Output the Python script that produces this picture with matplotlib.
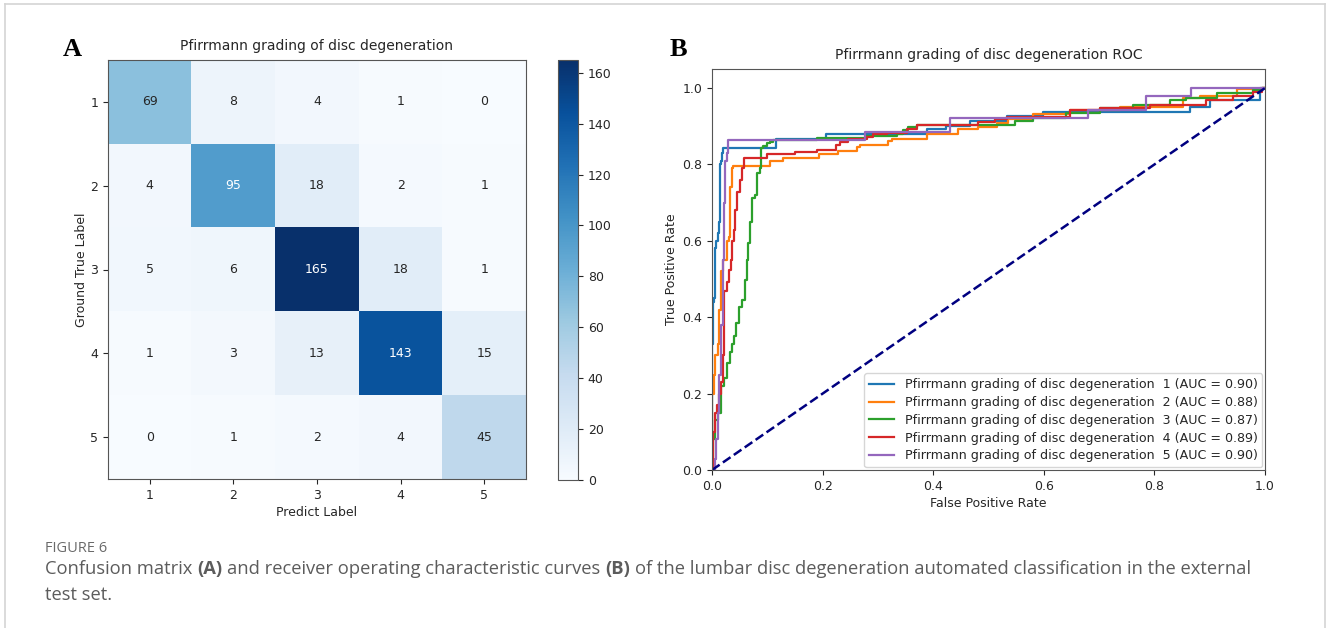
"""
plot.py
Confusion matrix (A) and per-grade ROC curves (B) for Pfirrmann grading,
with the figure caption underneath.
"""
import numpy as np
import matplotlib
matplotlib.use('Agg')
import matplotlib.pyplot as plt
from matplotlib.lines import Line2D

# ── Data ──────────────────────────────────────────────────
grades = ['1', '2', '3', '4', '5']
cm = np.array([
    [69,  8,   4,   1,  0],
    [ 4, 95,  18,   2,  1],
    [ 5,  6, 165,  18,  1],
    [ 1,  3,  13, 143, 15],
    [ 0,  1,   2,   4, 45],
])
cbar_ticks = [0, 20, 40, 60, 80, 100, 120, 140, 160]

auc_vals = [0.90, 0.88, 0.87, 0.89, 0.90]

# ROC steps: at each fpr the tpr jumps to the given value
fpr_1 = [0, 0, 0.002, 0.004, 0.006, 0.008, 0.010, 0.012, 0.014, 0.016, 0.018, 0.020,
         0.116, 0.207, 0.388, 0.424, 0.467, 0.533, 0.599, 0.864, 0.900, 0.991, 1.0]
tpr_1 = [0, 0.33, 0.44, 0.45, 0.58, 0.60, 0.62, 0.65, 0.80, 0.81, 0.83, 0.843,
         0.866, 0.879, 0.894, 0.900, 0.914, 0.927, 0.938, 0.951, 0.970, 1.0, 1.0]

fpr_2 = [0, 0, 0.003, 0.006, 0.010, 0.013, 0.017, 0.020, 0.027, 0.030, 0.033, 0.036,
         0.038, 0.105, 0.128, 0.194, 0.228, 0.262, 0.268, 0.319, 0.325, 0.388, 0.445,
         0.481, 0.515, 0.536, 0.581, 0.647, 0.738, 0.852, 0.882, 0.949, 0.995, 1.0]
tpr_2 = [0, 0.20, 0.25, 0.30, 0.33, 0.42, 0.52, 0.55, 0.60, 0.61, 0.74, 0.79,
         0.797, 0.809, 0.818, 0.827, 0.836, 0.846, 0.851, 0.862, 0.868, 0.880, 0.892,
         0.899, 0.909, 0.918, 0.931, 0.942, 0.951, 0.973, 0.980, 0.997, 1.0, 1.0]

fpr_3 = [0, 0.002, 0.005, 0.011, 0.016, 0.022, 0.027, 0.032, 0.037, 0.040, 0.044,
         0.048, 0.054, 0.060, 0.063, 0.066, 0.069, 0.073, 0.078, 0.081, 0.086, 0.088,
         0.093, 0.099, 0.105, 0.111, 0.189, 0.279, 0.334, 0.346, 0.355, 0.370, 0.548,
         0.581, 0.641, 0.702, 0.762, 0.829, 0.858, 0.913, 0.979, 0.995, 1.0]
tpr_3 = [0, 0.08, 0.13, 0.15, 0.22, 0.24, 0.28, 0.31, 0.33, 0.35, 0.385,
         0.428, 0.445, 0.497, 0.55, 0.594, 0.65, 0.712, 0.72, 0.777, 0.79, 0.842,
         0.848, 0.855, 0.860, 0.864, 0.870, 0.874, 0.881, 0.890, 0.899, 0.903, 0.914,
         0.921, 0.934, 0.947, 0.955, 0.969, 0.975, 0.986, 0.995, 1.0, 1.0]

fpr_4 = [0, 0.002, 0.006, 0.009, 0.012, 0.016, 0.019, 0.021, 0.022, 0.027, 0.031,
         0.034, 0.037, 0.040, 0.042, 0.046, 0.050, 0.054, 0.057, 0.100, 0.150, 0.190,
         0.225, 0.231, 0.246, 0.280, 0.291, 0.316, 0.352, 0.370, 0.481, 0.512, 0.533,
         0.647, 0.702, 0.792, 0.894, 0.943, 0.978, 0.995, 1.0]
tpr_4 = [0, 0.10, 0.15, 0.17, 0.20, 0.23, 0.30, 0.40, 0.47, 0.493, 0.524,
         0.55, 0.60, 0.628, 0.68, 0.729, 0.759, 0.79, 0.817, 0.827, 0.833, 0.839,
         0.851, 0.860, 0.866, 0.871, 0.880, 0.883, 0.892, 0.903, 0.912, 0.918, 0.925,
         0.942, 0.949, 0.955, 0.970, 0.979, 0.990, 1.0, 1.0]

fpr_5 = [0, 0.005, 0.008, 0.010, 0.013, 0.016, 0.019, 0.022, 0.024, 0.027, 0.029,
         0.277, 0.430, 0.680, 0.784, 0.867, 1.0]
tpr_5 = [0, 0.03, 0.08, 0.15, 0.25, 0.38, 0.55, 0.70, 0.81, 0.83, 0.864,
         0.884, 0.921, 0.942, 0.980, 1.0, 1.0]

roc_fpr = [fpr_1, fpr_2, fpr_3, fpr_4, fpr_5]
roc_tpr = [tpr_1, tpr_2, tpr_3, tpr_4, tpr_5]
roc_colors = ['#1f77b4', '#ff7f0e', '#2ca02c', '#d62728', '#9467bd']
roc_ticks = [0.0, 0.2, 0.4, 0.6, 0.8, 1.0]

# ── Figure ────────────────────────────────────────────────
W, H = 1330, 628
fig = plt.figure(figsize=(W / 100, H / 100), dpi=100)
fig.patch.set_facecolor('white')
TXT = '#262626'


def box(x0, y0, x1, y1):
    """pixel box (top-left origin) -> figure fraction rect"""
    return [x0 / W, 1 - y1 / H, (x1 - x0) / W, (y1 - y0) / H]


# outer light frame of the figure panel
for xs, ys in [([5, 5], [4, 628]), ([5, 1325], [4, 4]), ([1325, 1325], [4, 628])]:
    fig.add_artist(Line2D([x / W for x in xs], [1 - y / H for y in ys],
                          color='#d4d4d4', lw=1.2, transform=fig.transFigure))

# ── A: confusion matrix ───────────────────────────────────
ax1 = fig.add_axes(box(108, 60, 526, 479))
im = ax1.imshow(cm, cmap='Blues', vmin=0, vmax=cm.max(), aspect='auto',
                interpolation='nearest')
thresh = cm.max() / 2
for i in range(cm.shape[0]):
    for j in range(cm.shape[1]):
        ax1.text(j, i, str(cm[i, j]), ha='center', va='center', fontsize=9,
                 color='white' if cm[i, j] > thresh else TXT)
ax1.set_xticks(range(len(grades)))
ax1.set_yticks(range(len(grades)))
ax1.set_xticklabels(grades)
ax1.set_yticklabels(grades)
ax1.tick_params(labelsize=9, colors=TXT)
ax1.set_xlabel('Predict Label', fontsize=9, color=TXT, labelpad=3)
ax1.set_ylabel('Ground True Label', fontsize=9, color=TXT, labelpad=2)
ax1.set_title('Pfirrmann grading of disc degeneration', fontsize=10, color=TXT, pad=7)
for s in ax1.spines.values():
    s.set_color('#555555')

cax = fig.add_axes(box(558, 60, 578, 480))
cb = fig.colorbar(im, cax=cax, ticks=cbar_ticks)
cb.ax.tick_params(labelsize=9, colors=TXT)
cb.outline.set_edgecolor('#555555')

# ── B: ROC curves ─────────────────────────────────────────
ax2 = fig.add_axes(box(712, 69, 1265, 470))
for k in range(len(grades)):
    ax2.step(roc_fpr[k], roc_tpr[k], where='post', color=roc_colors[k], lw=1.6,
             label=f'Pfirrmann grading of disc degeneration  {grades[k]} '
                   f'(AUC = {auc_vals[k]:.2f})')
ax2.plot([0, 1], [0, 1], color='navy', lw=1.8, linestyle='--')
ax2.set_xlim(0, 1.0)
ax2.set_ylim(0, 1.05)
ax2.set_xticks(roc_ticks)
ax2.set_yticks(roc_ticks)
ax2.tick_params(labelsize=9, colors=TXT)
ax2.set_xlabel('False Positive Rate', fontsize=9, color=TXT, labelpad=3)
ax2.set_ylabel('True Positive Rate', fontsize=9, color=TXT, labelpad=3)
ax2.set_title('Pfirrmann grading of disc degeneration ROC', fontsize=10, color=TXT, pad=7)
for s in ax2.spines.values():
    s.set_color('#555555')
ax2.legend(loc='lower right', fontsize=9.1, handlelength=2.0, labelspacing=0.38,
           borderaxespad=0.2, labelcolor=TXT)

# panel letters
fig.text(72 / W, 1 - 50 / H, 'A', family='Liberation Serif', fontsize=19,
         fontweight='bold', ha='center', va='center', color='black')
fig.text(678 / W, 1 - 50 / H, 'B', family='Liberation Serif', fontsize=19,
         fontweight='bold', ha='center', va='center', color='black')

# ── Caption ───────────────────────────────────────────────
renderer = fig.canvas.get_renderer()
CAP = '#5c5c5c'
cap_font = dict(family='Open Sans', fontsize=13.2)

fig.text(45 / W, 1 - 548 / H, 'FIGURE 6', family='Open Sans', fontsize=10.5,
         color='#6a6a6a', va='center')


def text_width(s, **kw):
    t = fig.text(0, 0, s, **kw)
    w = t.get_window_extent(renderer).width
    t.remove()
    return w


space = text_width('a a', **cap_font) - text_width('aa', **cap_font)
pieces = [('Confusion matrix', 'normal'), ('(A)', 'bold'),
          ('and receiver operating characteristic curves', 'normal'), ('(B)', 'bold'),
          ('of the lumbar disc degeneration automated classification in the external',
           'normal')]
x = 45.0
for s, wt in pieces:
    t = fig.text(x / W, 1 - 569 / H, s, color=CAP, fontweight=wt, va='center', **cap_font)
    x = t.get_window_extent(renderer).x1 + space
fig.text(45 / W, 1 - 595 / H, 'test set.', color=CAP, va='center', **cap_font)

fig.savefig('out.png', dpi=100, facecolor='white')
